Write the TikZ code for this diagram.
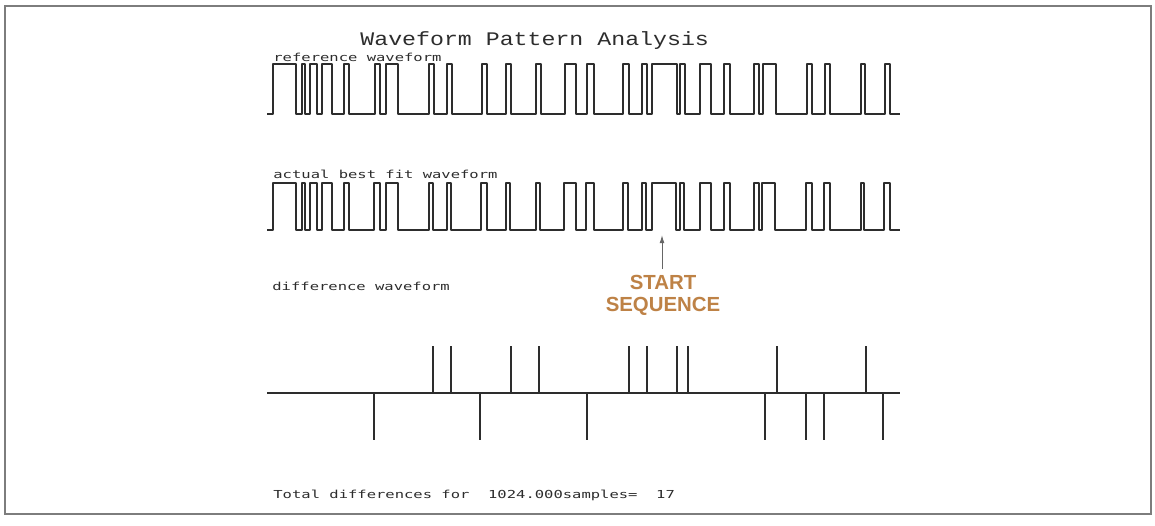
\documentclass[tikz,border=0pt]{standalone}
\usepackage{fontspec}
\usepackage{graphicx}
\usetikzlibrary{arrows.meta}
\newfontfamily\plotfont{Liberation Mono}
\newfontfamily\labelfont{DejaVu Sans Mono}
\newfontfamily\startfont{Liberation Sans}
\definecolor{startcol}{RGB}{190,130,70}
\definecolor{inkcol}{RGB}{45,45,45}
\definecolor{framecol}{RGB}{125,125,125}
\newcommand\plotwide[2]{\scalebox{#1}[1]{#2}}
\begin{document}
\begin{tikzpicture}[x=0.5pt,y=-0.5pt,
  wave/.style={draw=inkcol, line width=0.9pt, line join=round},
  framebox/.style={draw=framecol, line width=1pt},
  plotlabel/.style={anchor=base west, inner sep=0pt, text=inkcol,
    font=\labelfont\fontsize{5.5}{6}\selectfont},
  titlestyle/.style={anchor=base west, inner sep=0pt, text=inkcol,
    font=\plotfont\fontsize{9.6}{10}\selectfont},
  startlabel/.style={anchor=north, inner sep=0pt, text=startcol, align=center,
    font=\startfont\bfseries\fontsize{10.2}{11}\selectfont},
  pointer/.style={draw=black!60, line width=0.5pt, -{Latex[length=4pt,width=2.4pt]}}
]
\useasboundingbox[fill=white] (0,0) rectangle (1155,525);
\draw[framebox] (5,6) rectangle (1151,514);

% title and labels
\node[titlestyle] (title) at (360,45) {\plotwide{1.21}{Waveform Pattern Analysis}};
\node[plotlabel] (reflabel) at (273,61) {\plotwide{1.41}{reference waveform}};
\node[plotlabel] (actlabel) at (273,178) {\plotwide{1.41}{actual best fit waveform}};
\node[plotlabel] (difflabel) at (272,290) {\plotwide{1.41}{difference waveform}};
\node[plotlabel] (total) at (273,498) {\plotwide{1.41}{Total differences for~~1024.000samples=~~17}};

% reference waveform
\draw[wave] (267,114)
  \foreach \a/\b in {273/296,302/305,310/317,322/332,344/349,375/380,386/398,429/434,
    447/452,482/487,506/511,536/541,565/576,587/594,623/629,642/647,652/677,680/685,
    700/711,724/730,754/759,763/776,807/812,825/830,861/865,885/890}
  { -| (\a,64) -| (\b,114) } -- (900,114);

% actual best fit waveform
\draw[wave] (267,230)
  \foreach \a/\b in {273/296,302/305,310/317,322/332,344/349,374/380,386/398,429/433,
    447/451,481/487,506/510,536/540,564/576,586/594,623/628,642/646,652/676,680/684,
    700/711,724/730,754/759,762/775,806/812,824/830,861/864,884/890}
  { -| (\a,183) -| (\b,230) } -- (900,230);

% difference waveform
\draw[wave] (267,393) -- (900,393);
\foreach \x in {433,451,511,539,629,647,677,688,777,866}
  \draw[wave] (\x,393) -- (\x,346);
\foreach \x in {374,480,587,765,806,824,883}
  \draw[wave] (\x,393) -- (\x,440);

% start sequence marker
\coordinate (tip) at (662,235);
\node[startlabel] (start) at (663,275) {START\\SEQUENCE};
\draw[pointer, shorten <=3pt] (start.north -| tip) -- (tip);
\end{tikzpicture}
\end{document}
